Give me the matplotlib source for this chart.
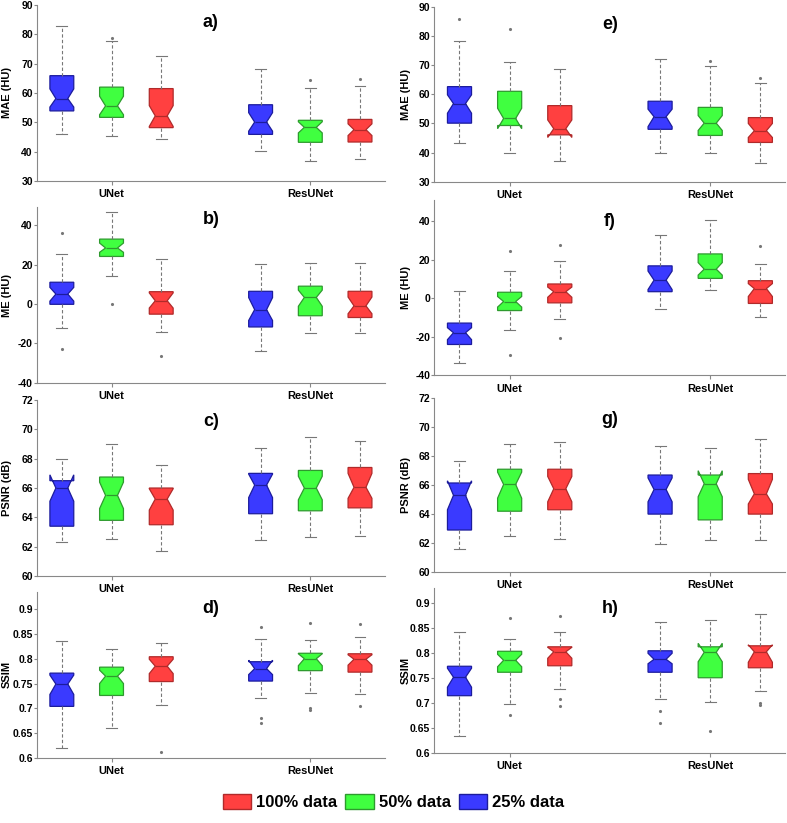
import matplotlib
matplotlib.use("Agg")
import matplotlib.pyplot as plt
from matplotlib.patches import Patch
from matplotlib.ticker import FormatStrFormatter

plt.rcParams["font.family"] = ["Liberation Sans", "DejaVu Sans"]
plt.rcParams["font.weight"] = "bold"
plt.rcParams["axes.unicode_minus"] = False

# box order: UNet 25%, 50%, 100% | ResUNet 25%, 50%, 100%
# each row: whislo, q1, med, q3, whishi, cilo, cihi
groups = ["UNet", "ResUNet"]
data_labels = ["25% data", "50% data", "100% data"]

stats_a = [[46.2, 53.9, 58.1, 65.9, 82.7, 55.2, 61.4],
           [45.4, 51.7, 55.6, 62.0, 77.7, 52.6, 58.9],
           [44.4, 48.2, 52.2, 61.5, 72.6, 48.6, 55.7],
           [40.2, 45.9, 50.1, 56.0, 68.1, 47.0, 53.3],
           [36.8, 43.2, 48.3, 50.7, 61.7, 46.4, 50.2],
           [37.5, 43.3, 47.5, 51.0, 62.5, 45.5, 49.5]]
fliers_a = [[], [78.8], [], [], [64.3], [64.7]]

stats_e = [[43.2, 50.1, 56.8, 62.6, 78.2, 53.5, 59.8],
           [39.9, 49.3, 51.7, 61.0, 71.0, 48.2, 55.2],
           [37.2, 46.1, 48.2, 56.1, 68.8, 45.2, 51.2],
           [39.8, 48.0, 52.3, 57.6, 71.9, 48.9, 54.9],
           [40.0, 45.9, 50.1, 55.5, 69.5, 47.6, 52.7],
           [36.3, 43.5, 47.5, 52.0, 63.8, 45.2, 50.0]]
fliers_e = [[85.8], [82.4], [], [], [71.3], [65.5]]

stats_b = [[-12.2, -0.2, 5.0, 11.0, 25.3, 1.4, 8.4],
           [14.1, 24.1, 28.4, 32.9, 46.6, 26.2, 30.9],
           [-14.3, -5.2, 1.6, 6.2, 22.9, -2.1, 5.6],
           [-24.0, -11.7, -2.9, 6.4, 20.5, -8.4, 3.2],
           [-15.0, -6.0, 3.3, 9.0, 20.9, -1.2, 7.0],
           [-15.0, -6.9, -1.0, 6.4, 20.9, -5.0, 3.5]]
fliers_b = [[35.9, -23.1], [-0.3], [-26.4], [], [], []]

stats_f = [[-33.6, -24.0, -17.9, -12.9, 3.9, -21.5, -15.3],
           [-16.5, -6.4, -1.7, 3.1, 14.1, -4.6, 0.9],
           [-10.6, -2.4, 3.4, 7.4, 19.1, 0.5, 5.8],
           [-5.8, 3.4, 9.4, 16.8, 33.0, 4.5, 14.1],
           [4.5, 10.3, 15.1, 23.0, 40.7, 12.0, 18.5],
           [-10.0, -2.7, 5.0, 9.1, 18.0, 0.9, 7.6]]
fliers_f = [[], [24.7, -29.4], [27.6, -20.4], [], [], [27.3]]

stats_c = [[62.3, 63.4, 66.0, 66.5, 68.0, 65.1, 66.9],
           [62.5, 63.8, 65.5, 66.75, 69.0, 64.6, 66.4],
           [61.7, 63.5, 65.25, 66.0, 67.55, 64.5, 65.95],
           [62.45, 64.25, 66.2, 67.0, 68.75, 65.35, 66.95],
           [62.65, 64.45, 66.0, 67.2, 69.5, 65.2, 66.8],
           [62.7, 64.65, 66.05, 67.4, 69.2, 65.3, 67.0]]
fliers_c = [[], [], [], [], [], []]

stats_g = [[61.6, 62.9, 65.3, 66.15, 67.7, 64.3, 66.3],
           [62.5, 64.2, 66.05, 67.1, 68.85, 65.1, 66.9],
           [62.3, 64.3, 65.75, 67.1, 69.0, 64.85, 66.6],
           [61.9, 64.0, 65.7, 66.7, 68.7, 64.85, 66.5],
           [62.2, 63.6, 66.1, 66.7, 68.6, 65.2, 67.0],
           [62.2, 64.0, 65.4, 66.8, 69.2, 64.7, 66.4]]
fliers_g = [[], [], [], [], [], []]

stats_d = [[0.620, 0.704, 0.749, 0.771, 0.835, 0.728, 0.767],
           [0.660, 0.726, 0.765, 0.783, 0.820, 0.750, 0.777],
           [0.707, 0.754, 0.785, 0.804, 0.831, 0.770, 0.799],
           [0.721, 0.755, 0.780, 0.794, 0.839, 0.768, 0.797],
           [0.730, 0.776, 0.800, 0.811, 0.838, 0.786, 0.810],
           [0.729, 0.773, 0.799, 0.810, 0.843, 0.787, 0.808]]
fliers_d = [[], [], [0.612], [0.864, 0.681, 0.670],
            [0.871, 0.701, 0.696], [0.870, 0.705]]

stats_h = [[0.634, 0.715, 0.752, 0.774, 0.843, 0.732, 0.770],
           [0.698, 0.762, 0.786, 0.804, 0.829, 0.773, 0.798],
           [0.728, 0.775, 0.803, 0.813, 0.843, 0.790, 0.812],
           [0.708, 0.762, 0.788, 0.805, 0.863, 0.779, 0.800],
           [0.703, 0.751, 0.802, 0.813, 0.866, 0.783, 0.820],
           [0.725, 0.771, 0.803, 0.815, 0.878, 0.782, 0.817]]
fliers_h = [[], [0.870, 0.676], [0.875, 0.709, 0.694], [0.685, 0.661],
            [0.644], [0.701, 0.696]]

ssim_ticks = [0.6, 0.65, 0.7, 0.75, 0.8, 0.85, 0.9]

face_colors = ["#3a3aff", "#40ff40", "#ff4040"]
edge_colors = ["#1c1c9c", "#2e9a2e", "#b02a2a"]
positions = [0, 1, 2, 4, 5, 6]

# panel: (stats, fliers, ylabel, ylim, yticks, letter, rect, letter_y, label_x)
panels = [
    (stats_a, fliers_a, "MAE (HU)", (30, 90), range(30, 91, 10), "a)",
     [0.047, 0.780, 0.442, 0.214], 0.90, -0.072),
    (stats_b, fliers_b, "ME (HU)", (-40, 49), range(-40, 41, 20), "b)",
     [0.047, 0.535, 0.442, 0.213], 0.93, -0.072),
    (stats_c, fliers_c, "PSNR (dB)", (60, 72), range(60, 73, 2), "c)",
     [0.047, 0.300, 0.442, 0.214], 0.88, -0.072),
    (stats_d, fliers_d, "SSIM", (0.6, 0.935), ssim_ticks, "d)",
     [0.047, 0.079, 0.442, 0.202], 0.90, -0.072),
    (stats_e, fliers_e, "MAE (HU)", (30, 90), range(30, 91, 10), "e)",
     [0.552, 0.779, 0.446, 0.213], 0.90, -0.068),
    (stats_f, fliers_f, "ME (HU)", (-40, 51), range(-40, 41, 20), "f)",
     [0.552, 0.544, 0.446, 0.213], 0.88, -0.068),
    (stats_g, fliers_g, "PSNR (dB)", (60, 72), range(60, 73, 2), "g)",
     [0.552, 0.305, 0.446, 0.211], 0.88, -0.068),
    (stats_h, fliers_h, "SSIM", (0.6, 0.93), ssim_ticks, "h)",
     [0.552, 0.085, 0.446, 0.200], 0.88, -0.068),
]

fig = plt.figure(figsize=(7.87, 8.23), dpi=100)

for stats, fliers, ylabel, ylim, yticks, letter, rect, ly, lx in panels:
    ax = fig.add_axes(rect)
    bstats = []
    for row, fl in zip(stats, fliers):
        lo, q1, med, q3, hi, cilo, cihi = row
        bstats.append(dict(whislo=lo, q1=q1, med=med, q3=q3, whishi=hi,
                           cilo=cilo, cihi=cihi, fliers=fl))
    art = ax.bxp(bstats, positions=positions, widths=0.48, shownotches=True,
                 patch_artist=True, capwidths=0.22,
                 whiskerprops=dict(color="#777777", linestyle=(0, (3, 2)),
                                   linewidth=0.8),
                 capprops=dict(color="#777777", linewidth=0.8),
                 flierprops=dict(marker=".", markersize=2.5,
                                 markerfacecolor="#777777",
                                 markeredgecolor="#777777"))
    for i, box in enumerate(art["boxes"]):
        box.set_facecolor(face_colors[i % 3])
        box.set_edgecolor(edge_colors[i % 3])
        box.set_linewidth(0.9)
        art["medians"][i].set_color(edge_colors[i % 3])
        art["medians"][i].set_linewidth(0.9)

    ax.set_xlim(-0.5, 6.5)
    ax.set_ylim(*ylim)
    ax.set_yticks(list(yticks))
    ax.yaxis.set_major_formatter(FormatStrFormatter("%g"))
    ax.set_xticks([1, 5])
    ax.set_xticklabels(groups, fontsize=8, fontweight="bold")
    ax.tick_params(axis="y", labelsize=7.5, length=2, color="#888888", pad=1)
    ax.tick_params(axis="x", length=3, color="#888888", pad=3)
    for lab in ax.get_yticklabels():
        lab.set_fontweight("bold")
    ax.set_ylabel(ylabel, fontsize=8, fontweight="bold")
    ax.yaxis.set_label_coords(lx, 0.5)
    ax.spines["top"].set_visible(False)
    ax.spines["right"].set_visible(False)
    ax.spines["left"].set_color("#888888")
    ax.spines["bottom"].set_color("#888888")
    ax.text(0.5, ly, letter, transform=ax.transAxes, fontsize=13,
            fontweight="bold", ha="center", va="center")

handles = [Patch(facecolor=face_colors[2], edgecolor=edge_colors[2]),
           Patch(facecolor=face_colors[1], edgecolor=edge_colors[1]),
           Patch(facecolor=face_colors[0], edgecolor=edge_colors[0])]
fig.legend(handles, [data_labels[2], data_labels[1], data_labels[0]],
           loc="center", bbox_to_anchor=(0.5, 0.0255), ncol=3, frameon=False,
           prop=dict(size=12, weight="bold"), handlelength=1.7,
           handleheight=1.0, columnspacing=0.5, handletextpad=0.3)

fig.savefig("out.png", dpi=100)
